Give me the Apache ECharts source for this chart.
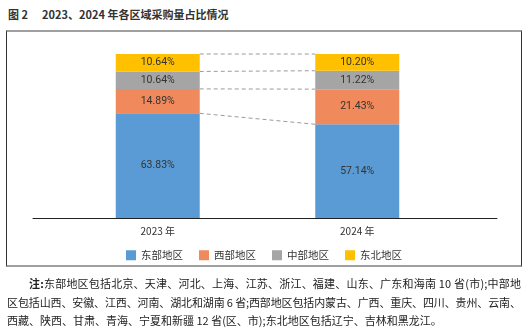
<!DOCTYPE html>
<html>
<head>
<meta charset="utf-8">
<script src="https://cdn.jsdelivr.net/npm/echarts@6/dist/echarts.min.js"></script>
<style>
  html, body { margin: 0; padding: 0; background: #fff; }
  body { width: 528px; height: 332px; position: relative; overflow: hidden; font-family: "Noto Sans CJK SC", "Noto Sans", sans-serif; }
  #title { position: absolute; left: 8px; top: 7px; font-size: 11px; font-weight: bold; color: #333; white-space: nowrap; line-height: 15px; }
  #title .t2 { margin-left: 14px; }
  #frame { position: absolute; left: 6px; top: 30px; width: 514px; height: 233px; border-top: 2px solid #a0a0a0; border-bottom: 2px solid #a0a0a0; border-left: 1px solid #333; border-right: 1px solid #333; }
  #chart { position: absolute; left: 0; top: 0; width: 528px; height: 332px; }
  .note { position: absolute; left: 7px; font-size: 11px; color: #222; line-height: 14px; white-space: nowrap; }
</style>
</head>
<body>
<div id="title">图 2<span class="t2">2023、2024 年各区域采购量占比情况</span></div>
<div id="frame"></div>
<div id="chart"></div>
<div class="note fit" data-w="492" style="top:276px; left:29px;"><b>注:</b>东部地区包括北京、天津、河北、上海、江苏、浙江、福建、山东、广东和海南 10 省(市);中部地</div>
<div class="note fit" data-w="514" style="top:295px;">区包括山西、安徽、江西、河南、湖北和湖南 6 省;西部地区包括内蒙古、广西、重庆、四川、贵州、云南、</div>
<div class="note" style="top:313px;">西藏、陕西、甘肃、青海、宁夏和新疆 12 省(区、市);东北地区包括辽宁、吉林和黑龙江。</div>
<script>
var categories = ['2023 年', '2024 年'];
var seriesNames = ['东部地区', '西部地区', '中部地区', '东北地区'];
var east = [63.83, 57.14];
var west = [14.89, 21.43];
var central = [10.64, 11.22];
var northeast = [10.64, 10.20];

var colors = ['#5B9BD5', '#F0895C', '#A5A5A5', '#FFC000'];
var allSeries = [east, west, central, northeast];

// fit note lines to their justified width
Array.prototype.forEach.call(document.querySelectorAll('.fit'), function (el) {
  var target = parseFloat(el.getAttribute('data-w'));
  var w = el.getBoundingClientRect().width;
  var n = el.textContent.length;
  el.style.letterSpacing = ((target - w) / (n - 1)) + 'px';
});

// cumulative boundaries (top of each stacked segment)
var boundaries = [];
var cum = [0, 0];
allSeries.forEach(function (s) {
  cum = [cum[0] + s[0], cum[1] + s[1]];
  boundaries.push([0, cum[0], cum[1]]);
});

var HALF_BAR = 42;
var chart = echarts.init(document.getElementById('chart'), null, { renderer: 'canvas' });

var series = allSeries.map(function (data, i) {
  return {
    name: seriesNames[i],
    type: 'bar',
    stack: 'total',
    xAxisIndex: 0,
    yAxisIndex: 0,
    barWidth: 84,
    data: data,
    itemStyle: { color: colors[i] },
    label: {
      show: true,
      position: 'inside',
      color: '#333',
      fontSize: 10.5,
      fontFamily: 'Roboto, "Noto Sans", sans-serif',
      formatter: function (p) { return p.value.toFixed(2) + '%'; }
    }
  };
});

series.push({
  type: 'custom',
  name: 'connectors',
  xAxisIndex: 0,
  yAxisIndex: 0,
  silent: true,
  data: boundaries,
  encode: { x: 0, y: [1, 2] },
  renderItem: function (params, api) {
    var p1 = api.coord([0, api.value(1)]);
    var p2 = api.coord([1, api.value(2)]);
    return {
      type: 'line',
      shape: { x1: p1[0] + HALF_BAR, y1: p1[1], x2: p2[0] - HALF_BAR, y2: p2[1] },
      style: { stroke: '#9a9a9a', lineWidth: 1, lineDash: [4, 3] }
    };
  }
});

chart.setOption({
  animation: false,
  grid: [
    { left: 58, right: 71, top: 54, bottom: 114 },
    { left: 33, right: 31, top: 54, bottom: 114 }
  ],
  xAxis: [
    {
      type: 'category', gridIndex: 0, data: categories,
      axisLine: { show: false }, axisTick: { show: false },
      axisLabel: { color: '#333', fontSize: 10, margin: 8, fontFamily: '"Noto Sans CJK SC", sans-serif' }
    },
    {
      type: 'value', gridIndex: 1, min: 0, max: 1,
      axisLine: { show: true, onZero: false, lineStyle: { color: '#222', width: 1 } },
      axisTick: { show: false }, axisLabel: { show: false }, splitLine: { show: false }
    }
  ],
  yAxis: [
    { type: 'value', gridIndex: 0, min: 0, max: 100, show: false, splitLine: { show: false } },
    { type: 'value', gridIndex: 1, min: 0, max: 1, show: false, splitLine: { show: false } }
  ],
  legend: {
    data: seriesNames,
    left: 'center',
    top: 245,
    itemWidth: 10,
    itemHeight: 10,
    itemGap: 16,
    icon: 'rect',
    textStyle: { color: '#333', fontSize: 10.5, fontFamily: '"Noto Sans CJK SC", sans-serif' }
  },
  series: series
});
</script>
</body>
</html>
